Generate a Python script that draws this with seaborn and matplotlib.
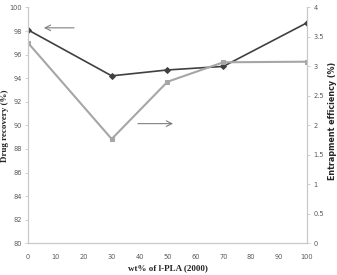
import numpy as np
import pandas as pd
import matplotlib
matplotlib.use('Agg')
import matplotlib.pyplot as plt
import seaborn as sns

# data
wt_pct = [0, 30, 50, 70, 100]
drug_recovery = [98.1, 94.2, 94.7, 95.0, 98.7]
entrapment = [3.40, 1.77, 2.74, 3.07, 3.08]

sns.set_style('white')
plt.rcParams['font.family'] = ['DejaVu Sans']

df = pd.DataFrame({'wt': wt_pct, 'recovery': drug_recovery, 'entrap': entrapment})

fig = plt.figure(figsize=(3.37, 2.75), dpi=100)
ax = fig.add_axes([0.083, 0.115, 0.828, 0.858])
ax2 = ax.twinx()

sns.lineplot(data=df, x='wt', y='recovery', ax=ax, color='#404040', lw=1.2,
             marker='D', markersize=3, markeredgecolor='#404040', zorder=3)
sns.lineplot(data=df, x='wt', y='entrap', ax=ax2, color='#a6a6a6', lw=1.5,
             marker='s', markersize=3.5, markeredgecolor='#a6a6a6')

tick_col = '#595959'
spine_col = '#c8c8c8'

ax.set_xlim(0, 100)
ax.set_ylim(80, 100)
ax2.set_ylim(0, 4)
ax.set_xticks(range(0, 101, 10))
ax.set_yticks(range(80, 101, 2))
ax2.set_yticks(np.arange(0, 4.01, 0.5))
ax2.set_yticklabels(['0', '0.5', '1', '1.5', '2', '2.5', '3', '3.5', '4'])

for a in (ax, ax2):
    a.tick_params(axis='both', labelsize=4.8, colors=tick_col, length=2.5,
                  width=0.6, color=spine_col, pad=2)
    for s in a.spines.values():
        s.set_color(spine_col)
        s.set_linewidth(0.8)
    a.spines['top'].set_visible(False)
ax.tick_params(axis='x', pad=5)

ax.set_xlabel('wt% of l-PLA (2000)', fontsize=6.5, fontweight='bold',
              family='Liberation Serif', labelpad=3)
ax.set_ylabel('Drug recovery (%)', fontsize=6.5, fontweight='bold',
              family='Liberation Serif')
ax2.set_ylabel('Entrapment efficiency (%)', fontsize=5.8, fontweight='bold')
ax.yaxis.set_label_coords(-0.068, 0.5)
ax2.yaxis.set_label_coords(1.075, 0.52)

# arrows pointing to each series' axis
ax.annotate('', xy=(4.7, 98.27), xytext=(17.5, 98.27),
            arrowprops=dict(arrowstyle='->', color='#808080', lw=0.8))
ax2.annotate('', xy=(53, 2.03), xytext=(38.4, 2.03),
             arrowprops=dict(arrowstyle='->', color='#808080', lw=0.8))

fig.savefig('out.png', dpi=100)
